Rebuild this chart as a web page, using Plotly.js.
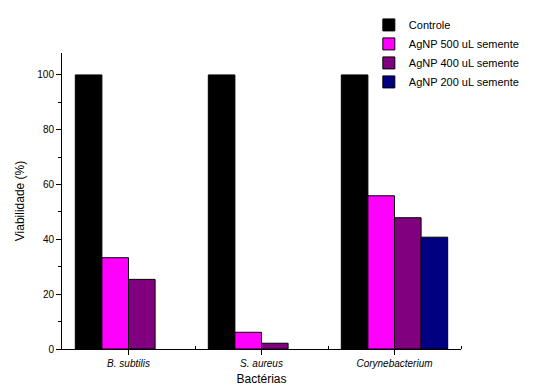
<!DOCTYPE html>
<html><head><meta charset="utf-8">
<script src="https://cdn.plot.ly/plotly-3.0.1.min.js"></script>
<style>html,body{margin:0;padding:0;background:#fff}#c{width:537px;height:390px}</style>
</head><body><div id="c"></div>
<script>
const categories = ['B. subtilis', 'S. aureus', 'Corynebacterium'];
const seriesNames = ['Controle', 'AgNP 500 uL semente', 'AgNP 400 uL semente', 'AgNP 200 uL semente'];
const controle = [100, 100, 100];
const agnp500 = [33.3, 6.1, 55.9];
const agnp400 = [25.4, 2.1, 47.9];
const agnp200 = [null, null, 40.8];
const colors = ['#000000', '#FF00FF', '#800080', '#000080'];
const yTicks = [0, 20, 40, 60, 80, 100];

const idx = categories.map((_, i) => i);
const allSeries = [controle, agnp500, agnp400, agnp200];
const traces = allSeries.map((vals, k) => ({
  type: 'bar', x: idx, y: vals, name: seriesNames[k],
  marker: {color: colors[k], line: {color: '#000', width: 1}},
  hoverinfo: 'skip'
}));

const font = {family: 'Liberation Sans, Arial, sans-serif', color: '#000'};
const layout = {
  width: 537, height: 390,
  margin: {l: 62, r: 76, t: 52, b: 41},
  paper_bgcolor: '#fff', plot_bgcolor: '#fff',
  barmode: 'group', bargap: 0.2, bargroupgap: 0,
  font: Object.assign({size: 11}, font),
  showlegend: true,
  legend: {x: 1.16, y: 1.14, xanchor: 'right', yanchor: 'top',
    font: Object.assign({size: 11}, font), bgcolor: 'rgba(0,0,0,0)',
    tracegroupgap: 0, itemwidth: 30, traceorder: 'normal'},
  xaxis: {
    range: [-0.5, 2.5], tickvals: idx, ticktext: categories.map(c => '<i>' + c + '</i>'),
    ticks: 'outside', ticklen: 5, tickcolor: '#000', tickwidth: 1,
    showline: true, linecolor: '#000', linewidth: 1, showgrid: false, zeroline: false,
    tickfont: Object.assign({size: 10}, font),
    minor: {tickvals: [0.5, 1.5, 2.5], ticks: 'inside', ticklen: 3, tickcolor: '#000', showgrid: false},
    title: {text: 'Bactérias', font: Object.assign({size: 12}, font), standoff: 6}
  },
  yaxis: {
    range: [0, 108], tickvals: yTicks,
    ticks: 'outside', ticklen: 5, tickcolor: '#000', tickwidth: 1,
    showline: true, linecolor: '#000', linewidth: 1, showgrid: false, zeroline: false,
    tickfont: Object.assign({size: 10}, font),
    minor: {dtick: 10, tick0: 0, ticks: 'outside', ticklen: 3, tickcolor: '#000', showgrid: false},
    title: {text: 'Viabilidade (%)', font: Object.assign({size: 12}, font), standoff: 10}
  }
};
Plotly.newPlot('c', traces, layout, {displayModeBar: false, staticPlot: true});
</script></body></html>
